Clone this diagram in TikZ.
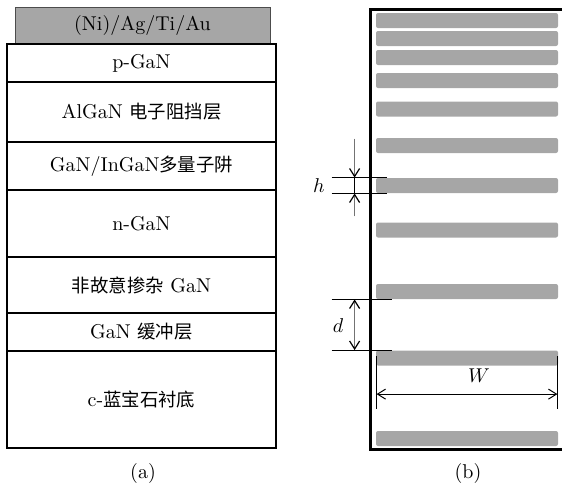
\documentclass[tikz,border=0pt]{standalone}
\usepackage{fontspec}
\newfontfamily\cjk{Noto Sans CJK SC}[Scale=0.92]
\newcommand{\zh}[1]{{\cjk #1}}
\usetikzlibrary{arrows.meta, positioning}

\begin{document}
\begin{tikzpicture}[
    x=0.5pt, y=-0.5pt,
    node distance=0pt,
    every node/.style={font=\normalsize},
    layer/.style={rectangle, draw, line width=1pt, outer sep=0pt, inner sep=0pt, minimum width=134.5pt},
    metal/.style={rectangle, draw=black!70, fill=black!35, line width=0.4pt, outer sep=0pt, inner sep=0pt, minimum width=127.5pt, minimum height=18.5pt},
    bar/.style={rectangle, fill=black!35, rounded corners=1pt, inner sep=0pt, minimum width=91pt, minimum height=7.5pt},
    frame/.style={line width=1.5pt},
    dimline/.style={line width=0.5pt},
    dimarrow/.style={draw=black!55, line width=0.6pt},
    barb/.style={-{Straight Barb[length=4pt, width=5pt, color=black]}},
    dbarb/.style={{Straight Barb[length=4pt, width=5pt, color=black]}-{Straight Barb[length=4pt, width=5pt, color=black]}}
]
\useasboundingbox (0,0) rectangle (562,484);

% (a) layer stack
\node[metal, anchor=south] (metal) at (142.5,44) {(Ni)/Ag/Ti/Au};
\node[layer, minimum height=19pt, below=of metal, xshift=-0.5pt] (pgan) {p-GaN};
\node[layer, minimum height=30pt, below=of pgan] (ebl) {AlGaN \zh{电子阻挡层}};
\node[layer, minimum height=24pt, below=of ebl] (mqw) {GaN/InGaN\zh{多量子阱}};
\node[layer, minimum height=33.5pt, below=of mqw] (ngan) {n-GaN};
\node[layer, minimum height=28pt, below=of ngan] (udgan) {\zh{非故意掺杂} GaN};
\node[layer, minimum height=19pt, below=of udgan] (buffer) {GaN \zh{缓冲层}};
\node[layer, minimum height=48.5pt, below=of buffer] (sub) {c-\zh{蓝宝石衬底}};
\node (capa) at (143,473) {(a)};

% (b) grating bars
\draw[frame] (562,9) -- (370,9) -- (370,449) -- (562,449);
\foreach \y [count=\i] in {20.5,38.5,57.5,80.5,109,145.5,185.5,230,291.5,358,438.5}
    \node[bar] (b\i) at (467,\y) {};

% h
\draw[dimline] (b7.north west) ++(-44,0) -- ++(55,0);
\draw[dimline] (b7.south west) ++(-44,0) -- ++(55,0);
\draw[dimline] ([xshift=-10.5pt]b7.north west) -- ([xshift=-10.5pt]b7.south west);
\draw[dimarrow, barb] ([xshift=-10.5pt, yshift=19.5pt]b7.north west) -- ([xshift=-10.5pt]b7.north west);
\draw[dimarrow, barb] ([xshift=-10.5pt, yshift=-11.5pt]b7.south west) -- ([xshift=-10.5pt]b7.south west);
\node (hlab) at (319,185.5) {$h$};

% d
\draw[dimline] (b9.south west) ++(-44,0) -- ++(60,0);
\draw[dimline] (b10.north west) ++(-44,0) -- ++(60,0);
\draw[dimarrow, dbarb] ([xshift=-10.5pt]b9.south west) -- ([xshift=-10.5pt]b10.north west);
\node (dlab) at (338,326) {$d$};

% W
\draw[dimline] ([xshift=0.5pt, yshift=-3pt]b10.north west) -- ++(0,53);
\draw[dimline] ([xshift=-0.5pt, yshift=-3pt]b10.north east) -- ++(0,53);
\draw[dimline, dbarb] ([xshift=0.5pt, yshift=-22pt]b10.north west) -- ([xshift=-0.5pt, yshift=-22pt]b10.north east)
    node[midway, above=2pt, xshift=6pt] (wlab) {$W$};

\node (capb) at (468,473) {(b)};
\end{tikzpicture}
\end{document}
